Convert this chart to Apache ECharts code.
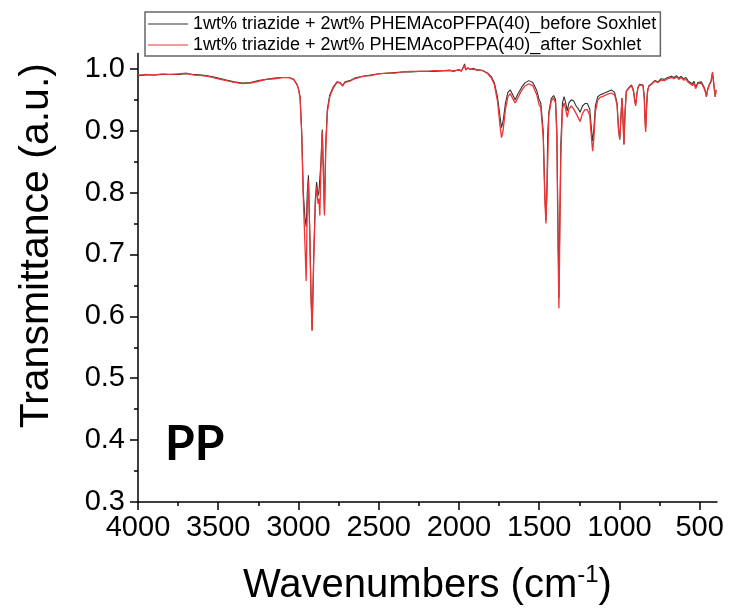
<!DOCTYPE html>
<html><head><meta charset="utf-8">
<script src="https://cdn.jsdelivr.net/npm/echarts@6/dist/echarts.min.js"></script>
<style>html,body{margin:0;padding:0;background:#fff}#c{width:731px;height:611px}</style>
</head><body><div id="c"></div>
<script>
const seriesNames = [
  '1wt% triazide + 2wt% PHEMAcoPFPA(40)_before Soxhlet',
  '1wt% triazide + 2wt% PHEMAcoPFPA(40)_after Soxhlet'
];
const wavenumbers = [
  4000,3950,3900,3850,3800,3750,3700,3650,3600,3550,3500,3450,3400,3350,3300,3250,3200,3150,3100,3060,3030,
  3010,3000,2990,2980,2970,2960,2952,2945,2938,2930,2922,2915,2905,2895,2887,2878,2873,2867,2860,2852,2845,2838,2830,2820,2805,2785,2760,2740,2725,2710,2680,
  2650,2600,2550,2500,2450,2400,2350,2300,2250,2200,2150,2100,2060,2030,2000,1985,1975,1965,1958,1945,1930,1910,1890,1870,
  1850,1820,1800,1780,1760,1745,1735,1725,1710,1695,1680,1665,1650,1635,1610,1590,1565,1540,1515,1500,1490,1475,1465,1458,1452,1447,1440,1425,1410,1398,1390,1383,1377,1372,1365,1355,1345,1335,1325,1315,1300,1285,1270,1255,1245,1230,1215,1200,1185,1175,1167,1160,1150,1135,1120,1100,1075,1050,1030,1015,1005,
  998,991,984,978,972,965,957,940,925,912,905,899,893,885,874,853,845,840,836,831,825,816,800,780,760,740,720,700,690,675,660,645,630,615,600,585,570,560,545,535,525,512,500,490,475,465,458,450,440,430,420,416,410,403,398
];
const beforeSoxhlet = [
  0.989,0.990,0.990,0.991,0.991,0.991,0.992,0.991,0.990,0.988,0.985,0.982,0.979,0.977,0.978,0.981,0.983,0.985,0.986,0.986,0.983,
  0.975,0.968,0.955,0.900,0.800,0.760,0.745,0.800,0.828,0.740,0.640,0.577,0.700,0.790,0.817,0.795,0.800,0.800,0.850,0.902,0.840,0.769,0.880,0.935,0.958,0.970,0.979,0.978,0.973,0.979,0.981,
  0.985,0.988,0.990,0.992,0.993,0.994,0.995,0.995,0.996,0.996,0.996,0.997,0.998,0.996,0.999,0.996,1.002,1.008,0.998,1.002,0.999,1.001,0.998,0.998,
  0.997,0.993,0.988,0.978,0.955,0.925,0.905,0.915,0.945,0.962,0.966,0.958,0.950,0.958,0.970,0.977,0.981,0.978,0.965,0.950,0.945,0.900,0.800,0.755,0.800,0.895,0.930,0.952,0.957,0.950,0.900,0.750,0.630,0.750,0.880,0.945,0.955,0.945,0.932,0.945,0.950,0.948,0.940,0.935,0.930,0.940,0.944,0.944,0.935,0.905,0.883,0.900,0.940,0.955,0.958,0.960,0.963,0.966,0.962,0.945,0.900,
  0.886,0.920,0.953,0.920,0.878,0.930,0.964,0.970,0.974,0.965,0.950,0.942,0.955,0.970,0.975,0.974,0.955,0.920,0.905,0.940,0.965,0.973,0.976,0.981,0.979,0.984,0.983,0.986,0.984,0.988,0.986,0.989,0.985,0.988,0.984,0.986,0.980,0.983,0.976,0.980,0.970,0.978,0.976,0.979,0.972,0.965,0.955,0.968,0.975,0.980,0.993,0.990,0.970,0.955,0.966
];
const afterSoxhlet = [
  0.990,0.991,0.990,0.992,0.991,0.992,0.993,0.990,0.989,0.987,0.984,0.981,0.978,0.976,0.977,0.980,0.983,0.984,0.986,0.986,0.983,
  0.975,0.967,0.953,0.895,0.790,0.720,0.657,0.780,0.819,0.735,0.630,0.577,0.690,0.780,0.810,0.782,0.790,0.763,0.840,0.898,0.830,0.763,0.870,0.930,0.955,0.968,0.978,0.977,0.972,0.978,0.980,
  0.984,0.988,0.989,0.992,0.993,0.993,0.995,0.996,0.996,0.996,0.997,0.997,0.997,0.997,0.998,0.997,1.001,1.006,0.999,1.001,1.000,0.999,0.999,0.998,
  0.997,0.992,0.986,0.975,0.948,0.910,0.889,0.900,0.935,0.955,0.960,0.952,0.945,0.952,0.965,0.972,0.976,0.973,0.958,0.942,0.937,0.890,0.790,0.750,0.800,0.850,0.925,0.948,0.953,0.945,0.890,0.720,0.613,0.720,0.860,0.935,0.945,0.935,0.922,0.935,0.940,0.935,0.928,0.920,0.915,0.928,0.934,0.934,0.925,0.890,0.867,0.885,0.930,0.950,0.954,0.956,0.959,0.961,0.958,0.942,0.900,
  0.886,0.920,0.953,0.920,0.878,0.930,0.964,0.969,0.973,0.963,0.948,0.940,0.955,0.969,0.974,0.973,0.950,0.910,0.898,0.935,0.962,0.972,0.975,0.980,0.978,0.982,0.981,0.984,0.982,0.986,0.984,0.987,0.983,0.986,0.982,0.983,0.978,0.980,0.973,0.977,0.968,0.976,0.974,0.977,0.970,0.963,0.955,0.966,0.974,0.978,0.995,0.997,0.972,0.955,0.966
];
const xMajorTicks = [4000,3500,3000,2500,2000,1500,1000,500];
const xMinorTicks = [3750,3250,2750,2250,1750,1250,750];
const yMajorTicks = [0.3,0.4,0.5,0.6,0.7,0.8,0.9,1.0];
const yMinorTicks = [0.35,0.45,0.55,0.65,0.75,0.85,0.95];
const sampleLabel = 'PP';

const FONT = "'Liberation Sans', Arial, sans-serif";
const X_MIN = 392, X_MAX = 4000, Y_MIN = 0.3, Y_MAX = 1.025;
const chart = echarts.init(document.getElementById('c'), null, {renderer:'canvas'});
const axisCol = '#000';
const mk = arr => wavenumbers.map((w,i)=>[w, arr[i]]);
const baseX = {type:'value', inverse:true, min:X_MIN, max:X_MAX, gridIndex:0, position:'bottom', splitLine:{show:false}};
const baseY = {type:'value', min:Y_MIN, max:Y_MAX, gridIndex:0, position:'left', splitLine:{show:false}};
chart.setOption({
  animation:false,
  backgroundColor:'#fff',
  grid:{left:138, right:14, top:53.4, bottom:106.5, containLabel:false},
  legend:{
    orient:'vertical', left:145, top:12,
    padding:[2,4,1,3], itemGap:1, itemWidth:40, itemHeight:1.2, icon:'rect',
    borderColor:'#666', borderWidth:1.5, borderRadius:0,
    textStyle:{fontSize:18, color:'#000', fontFamily:FONT, lineHeight:20},
    data:seriesNames
  },
  xAxis:[
    Object.assign({}, baseX, {
      axisLine:{show:true, onZero:false, lineStyle:{color:axisCol, width:1.5}},
      axisTick:{show:true, length:8, customValues:xMajorTicks, lineStyle:{color:axisCol, width:1.5}},
      axisLabel:{customValues:xMajorTicks, fontSize:29, color:'#000', fontFamily:FONT, margin:11, formatter:v=>String(v)},
      name:'{a|Wavenumbers (cm}{s|-1}{a|)}',
      nameLocation:'middle', nameGap:61,
      nameTextStyle:{rich:{a:{fontSize:40, fontFamily:FONT, color:'#000', lineHeight:46}, s:{fontSize:24, fontFamily:FONT, color:'#000', verticalAlign:'top', lineHeight:24}}}
    }),
    Object.assign({}, baseX, {
      axisLine:{show:false, onZero:false},
      axisTick:{show:true, length:4, customValues:xMinorTicks, lineStyle:{color:axisCol, width:1.5}},
      axisLabel:{show:false}
    })
  ],
  yAxis:[
    Object.assign({}, baseY, {
      axisLine:{show:true, onZero:false, lineStyle:{color:axisCol, width:1.5}},
      axisTick:{show:true, length:8, customValues:yMajorTicks, lineStyle:{color:axisCol, width:1.5}},
      axisLabel:{customValues:yMajorTicks, fontSize:29, color:'#000', fontFamily:FONT, margin:13, formatter:v=>v.toFixed(1)},
      name:'Transmittance (a.u.)', nameLocation:'middle', nameGap:81,
      nameTextStyle:{fontSize:41, color:'#000', fontFamily:FONT, padding:[0,0,0,64]}
    }),
    Object.assign({}, baseY, {
      axisLine:{show:false, onZero:false},
      axisTick:{show:true, length:4, customValues:yMinorTicks, lineStyle:{color:axisCol, width:1.5}},
      axisLabel:{show:false}
    })
  ],
  graphic:[{type:'text', x:165, y:445, style:{text:sampleLabel, fontSize:48, fontWeight:'bold', fontFamily:"Lato, 'Open Sans', sans-serif", fill:'#000', verticalAlign:'middle', align:'left'}}],
  series:[
    {name:seriesNames[0], type:'line', xAxisIndex:0, yAxisIndex:0, data:mk(beforeSoxhlet), symbol:'none', lineStyle:{color:'#333', width:1.1}, itemStyle:{color:'#333'}, z:2},
    {name:seriesNames[1], type:'line', xAxisIndex:0, yAxisIndex:0, data:mk(afterSoxhlet), symbol:'none', lineStyle:{color:'#ee3333', width:1.3}, itemStyle:{color:'#ee3333'}, z:3}
  ]
});
</script></body></html>
